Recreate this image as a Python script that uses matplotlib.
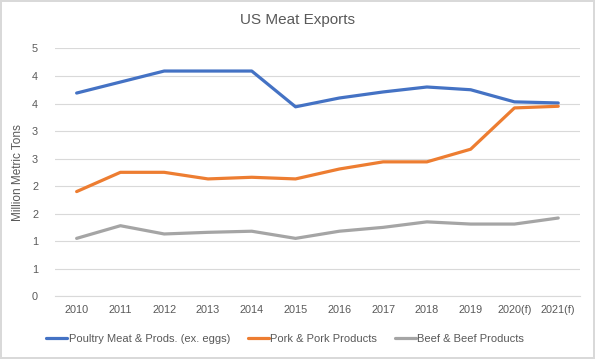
import math
import numpy as np
import matplotlib.pyplot as plt
from matplotlib.ticker import FuncFormatter, MultipleLocator

years = ["2010", "2011", "2012", "2013", "2014", "2015", "2016", "2017",
         "2018", "2019", "2020(f)", "2021(f)"]
poultry = [3.69, 3.89, 4.09, 4.09, 4.09, 3.44, 3.60, 3.71, 3.80, 3.75, 3.53, 3.51]
pork = [1.90, 2.25, 2.25, 2.13, 2.16, 2.13, 2.31, 2.44, 2.44, 2.67, 3.42, 3.45]
beef = [1.05, 1.28, 1.13, 1.16, 1.18, 1.05, 1.18, 1.25, 1.35, 1.31, 1.31, 1.42]

plt.rcParams["font.family"] = ["Liberation Sans", "DejaVu Sans"]
txt = "#595959"

fig = plt.figure(figsize=(5.95, 3.59), dpi=100)
fig.patch.set_edgecolor("#d9d9d9")
fig.patch.set_linewidth(1.5)
ax = fig.add_axes([0.092, 0.175, 0.883, 0.69])

x = np.arange(len(years))
ax.plot(x, poultry, color="#4472C4", lw=2.3, label="Poultry Meat & Prods. (ex. eggs)", solid_capstyle="round")
ax.plot(x, pork, color="#ED7D31", lw=2.3, label="Pork & Pork Products", solid_capstyle="round")
ax.plot(x, beef, color="#A5A5A5", lw=2.3, label="Beef & Beef Products", solid_capstyle="round")

ax.set_xlim(-0.5, len(years) - 0.5)
ax.set_ylim(0, 4.5)
ax.yaxis.set_major_locator(MultipleLocator(0.5))
ax.yaxis.set_major_formatter(FuncFormatter(lambda v, p: str(int(math.floor(v + 0.5)))))
ax.set_xticks(x)
ax.set_xticklabels(years)
ax.grid(axis="y", color="#d9d9d9", lw=0.8)
ax.set_axisbelow(True)
for s in ["top", "right", "left"]:
    ax.spines[s].set_visible(False)
ax.spines["bottom"].set_color("#d9d9d9")
ax.tick_params(length=0, labelsize=7.8, colors=txt, pad=6)
ax.tick_params(axis="y", pad=12)

ax.set_ylabel("Million Metric Tons", fontsize=8.5, color=txt, labelpad=6)
fig.suptitle("US Meat Exports", fontsize=11, color=txt, y=0.965)

fig.legend(loc="lower center", bbox_to_anchor=(0.479, 0.015), ncol=3, frameon=False,
           fontsize=8, handlelength=1.9, columnspacing=1.6, handletextpad=0.1,
           labelcolor=txt)

fig.savefig("out.png", dpi=100, edgecolor=fig.get_edgecolor())
